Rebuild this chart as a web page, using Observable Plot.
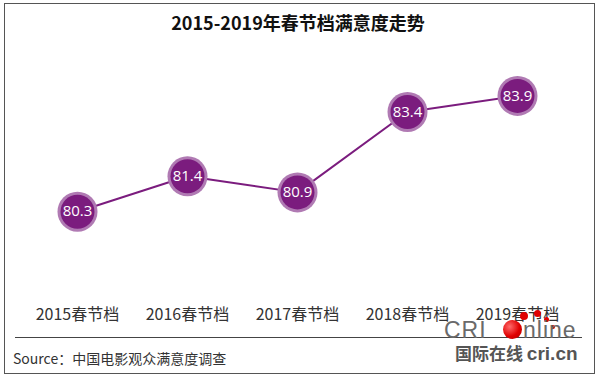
<!DOCTYPE html>
<html><head><meta charset="utf-8">
<script src="https://cdn.jsdelivr.net/npm/d3@7"></script>
<script src="https://cdn.jsdelivr.net/npm/@observablehq/plot@0.6"></script>
<style>
body{margin:0;background:#fff}
#c{position:relative;width:600px;height:380px;background:#fff;overflow:hidden;font-family:"Noto Sans CJK SC","Noto Sans",sans-serif}
.abs{position:absolute}
.logo{font-family:'Liberation Sans',sans-serif;font-size:23px;line-height:12px;height:12px;color:#6a6a6a;letter-spacing:1px}
</style></head>
<body>
<div id="c">
  <div class="abs" style="left:4px;top:3px;width:589px;height:369px;border:1.5px solid #555"></div>
  <div class="abs" id="title" style="left:0;top:9px;width:596px;text-align:center;font-weight:bold;font-size:18px;color:#111"></div>
  <div class="abs" id="plot" style="left:0;top:0"></div>
  <div class="abs" style="left:15px;top:337px;width:567px;height:0;border-top:1.5px solid #444"></div>
  <div class="abs" id="source" style="left:13px;top:348px;font-size:14px;color:#333"></div>
  <div class="abs logo" style="left:444px;top:324px">CRI</div>
  <div class="abs" style="left:503px;top:320px;width:19px;height:19px;border-radius:50%;background:radial-gradient(circle at 35% 35%,#ff6b6b,#e00000 55%,#b00000)"></div>
  <div class="abs" style="left:520px;top:312px;width:8px;height:8px;border-radius:50%;background:#e00000"></div>
  <div class="abs" style="left:534px;top:310px;width:7px;height:7px;border-radius:50%;background:#e00000"></div>
  <div class="abs" style="left:544px;top:317px;width:5px;height:5px;border-radius:50%;background:#e00000"></div>
  <div class="abs" style="left:551px;top:325px;width:4px;height:4px;border-radius:50%;background:#e00000"></div>
  <div class="abs logo" style="left:523px;top:324px">nline</div>
  <div class="abs" style="left:455px;top:340px;font-weight:bold;font-size:17px;color:#555;white-space:nowrap">国际在线 <span style="font-family:'Liberation Sans',sans-serif;font-size:19px">cri.cn</span></div>
</div>
<script>
const titleText = "2015-2019年春节档满意度走势";
const sourceText = "Source：中国电影观众满意度调查";
const categories = ["2015春节档", "2016春节档", "2017春节档", "2018春节档", "2019春节档"];
const values = [80.3, 81.4, 80.9, 83.4, 83.9];

document.getElementById("title").textContent = titleText;
document.getElementById("source").textContent = sourceText;

const data = categories.map((c, i) => ({cat: c, v: values[i]}));
const dark = "#7b1c7e";
const halo = "#b07ab3";

const chart = Plot.plot({
  width: 600,
  height: 380,
  marginLeft: 77,
  marginRight: 83,
  marginTop: 60,
  marginBottom: 127,
  style: {background: "transparent", fontFamily: "'Noto Sans CJK SC', sans-serif"},
  x: {type: "point", domain: categories, padding: 0, label: null},
  y: {domain: [79, 85], axis: null},
  marks: [
    Plot.axisX({tickSize: 0, tickPadding: 55, fontSize: 16, color: "#333", label: null}),
    Plot.line(data, {x: "cat", y: "v", stroke: dark, strokeWidth: 2}),
    Plot.dot(data, {x: "cat", y: "v", r: 20, fill: halo}),
    Plot.dot(data, {x: "cat", y: "v", r: 17, fill: dark}),
    Plot.text(data, {x: "cat", y: "v", text: d => d.v.toFixed(1), fill: "#fff", fontSize: 15, fontFamily: "'Open Sans', sans-serif"})
  ]
});
document.getElementById("plot").appendChild(chart);
</script>
</body></html>
